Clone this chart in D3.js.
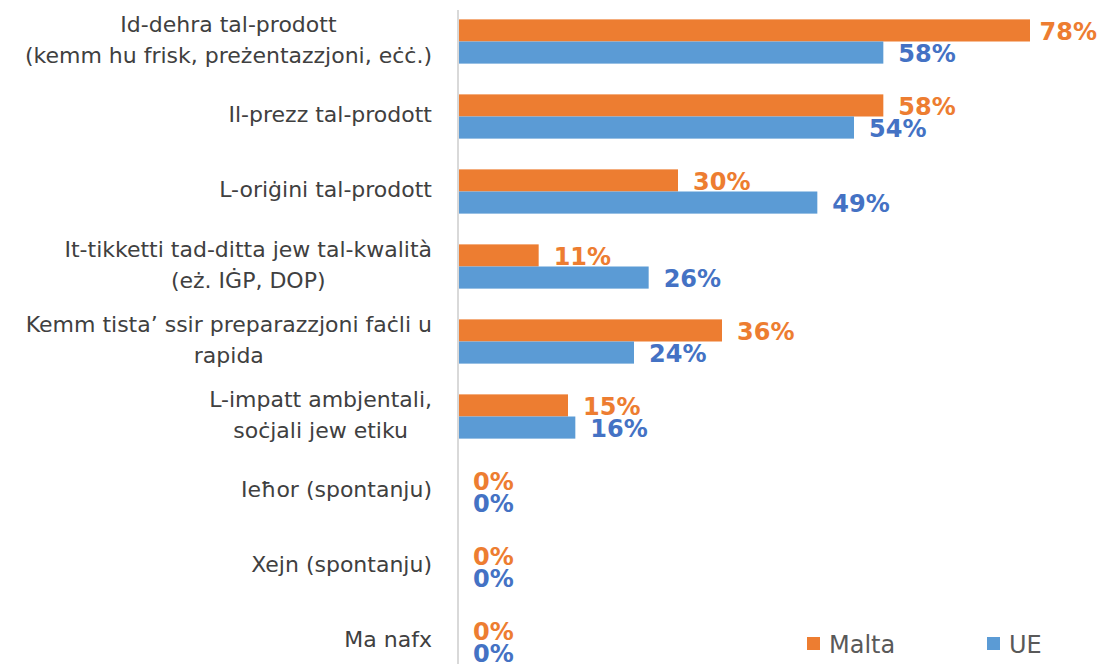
<!DOCTYPE html>
<html>
<head>
<meta charset="utf-8">
<script src="https://cdn.jsdelivr.net/npm/d3@7"></script>
<style>
	body { margin: 0; background: #fff; }
	svg text { font-family: "DejaVu Sans", "Open Sans", sans-serif; }
</style>
</head>
<body>
<div id="chart"></div>
<script>
// categories (each entry is the list of label lines)
const categories = [
	['Id-dehra tal-prodott', '(kemm hu frisk, preżentazzjoni, eċċ.)'],
	['Il-prezz tal-prodott'],
	['L-oriġini tal-prodott'],
	['It-tikketti tad-ditta jew tal-kwalità', '(eż. IĠP, DOP)'],
	['Kemm tista’ ssir preparazzjoni faċli u', 'rapida'],
	['L-impatt ambjentali,', 'soċjali jew etiku'],
	['Ieħor (spontanju)'],
	['Xejn (spontanju)'],
	['Ma nafx']
];
const seriesNames = ['Malta', 'UE'];
const maltaValues = [78, 58, 30, 11, 36, 15, 0, 0, 0];
const ueValues = [58, 54, 49, 26, 24, 16, 0, 0, 0];

const barColors = ['#ED7D31', '#5B9BD5'];
const labelColors = ['#ED7D31', '#4472C4'];

const width = 1098, height = 664;
const axisX = 458;

const svg = d3.select('#chart').append('svg')
	.attr('width', width)
	.attr('height', height);

// scales
const xScale = d3.scaleLinear().domain([0, 78]).range([axisX, 1030]);
const yScale = d3.scaleBand()
	.domain(d3.range(categories.length))
	.range([4, 679])
	.paddingInner(0.41)
	.paddingOuter(0.205);
const ySub = d3.scaleBand().domain([0, 1]).range([0, yScale.bandwidth()]);

const rows = categories.map((c, i) => ({ i, lines: c, values: [maltaValues[i], ueValues[i]] }));

// category labels, lines centred on each other, block right aligned
const labelG = svg.append('g');
rows.forEach(r => {
	const cy = yScale(r.i) + yScale.bandwidth() / 2;
	const g = labelG.append('g');
	const n = r.lines.length;
	const texts = r.lines.map((line, k) => g.append('text')
		.attr('y', cy + (k - (n - 1) / 2) * 31 - 2)
		.attr('dy', '0.35em')
		.attr('text-anchor', 'middle')
		.attr('font-size', 22)
		.attr('fill', '#404040')
		.text(line));
	const maxW = d3.max(texts, t => t.node().getComputedTextLength());
	texts.forEach(t => t.attr('x', 432 - maxW / 2));
});

// bars
const groups = svg.append('g').selectAll('g')
	.data(rows)
	.join('g')
	.attr('transform', d => `translate(0, ${yScale(d.i)})`);

groups.selectAll('rect')
	.data(d => d.values.map((v, s) => ({ v, s })))
	.join('rect')
	.attr('x', axisX)
	.attr('y', d => ySub(d.s))
	.attr('width', d => xScale(d.v) - axisX)
	.attr('height', ySub.bandwidth())
	.attr('fill', d => barColors[d.s]);

// data labels
groups.selectAll('text')
	.data(d => d.values.map((v, s) => ({ v, s })))
	.join('text')
	.attr('y', d => ySub(d.s) + ySub.bandwidth() / 2 + 1)
	.attr('dy', '0.36em')
	.attr('font-size', 24)
	.attr('font-weight', 'bold')
	.attr('fill', d => labelColors[d.s])
	.text(d => d.v + '%')
	.attr('x', function (d) {
		const w = this.getComputedTextLength();
		return Math.min(xScale(d.v) + 15, width - w - 1);
	});

// axis line
svg.append('line')
	.attr('x1', axisX).attr('x2', axisX)
	.attr('y1', 10).attr('y2', height)
	.attr('stroke', '#D9D9D9')
	.attr('stroke-width', 2);

// legend
const legendX = [807, 987];
const legend = svg.append('g').selectAll('g')
	.data(seriesNames)
	.join('g')
	.attr('transform', (d, i) => `translate(${legendX[i]}, 637)`);
legend.append('rect')
	.attr('width', 13).attr('height', 13)
	.attr('fill', (d, i) => barColors[i]);
legend.append('text')
	.attr('x', 22)
	.attr('y', 7)
	.attr('dy', '0.36em')
	.attr('font-size', 24)
	.attr('fill', '#595959')
	.text(d => d);
</script>
</body>
</html>
